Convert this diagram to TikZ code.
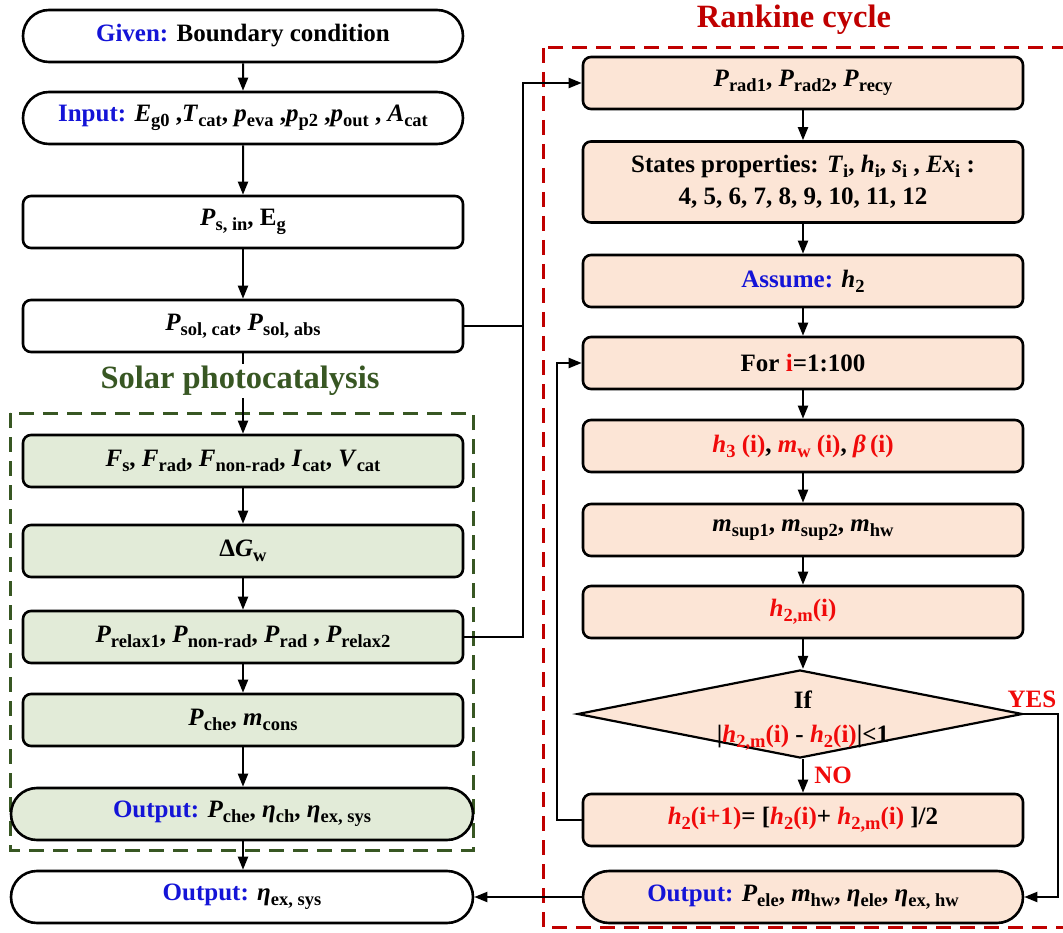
\documentclass[tikz,border=0pt]{standalone}
\usepackage{fontspec}
\setmainfont{Liberation Serif}
\usetikzlibrary{shapes.misc,shapes.geometric,arrows.meta,calc}
\definecolor{cblue}{RGB}{20,20,215}
\definecolor{cred}{RGB}{240,10,10}
\definecolor{dred}{RGB}{192,0,0}
\definecolor{dgreen}{RGB}{56,87,35}
\definecolor{peach}{RGB}{252,229,214}
\definecolor{lgreen}{RGB}{226,235,216}
\newcommand{\lsub}[1]{\raisebox{-5pt}{\fontsize{18.5}{18.5}\selectfont #1}}
\newcommand{\vv}[2]{\textit{#1}\lsub{#2}}
\newcommand{\bl}[1]{\textcolor{cblue}{#1}}
\newcommand{\rd}[1]{\textcolor{cred}{#1}}
\begin{document}
\begin{tikzpicture}[x=1pt,y=-1pt,
 base/.style={draw, line width=2.6pt, align=center, inner sep=0pt, font=\bfseries\fontsize{25}{32}\selectfont, minimum height=52pt},
 rbox/.style={base, rectangle, rounded corners=8pt, minimum width=440pt},
 sbox/.style={base, rounded rectangle, minimum width=462pt},
 gfill/.style={fill=lgreen},
 pfill/.style={fill=peach},
 arr/.style={line width=2pt, -{Triangle[length=13pt,width=10pt]}},
 ln/.style={line width=2pt},
 ttl/.style={font=\bfseries\fontsize{32.5}{36}\selectfont},
 lbl/.style={font=\bfseries\fontsize{25}{30}\selectfont, text=cred, inner sep=0pt},
 dsh/.style={line width=3pt, dash pattern=on 15pt off 9pt}]
\clip (0,0) rectangle (1063,933);
\fill[white] (0,0) rectangle (1063,933);

% dashed frames
\draw[dsh, dgreen] (10,413) rectangle (473,850);
\draw[dsh, dred] (543,48) rectangle (1090,927);

% left column
\node[sbox, minimum width=440pt] (given) at (243,36) {\bl{Given:} Boundary condition};
\node[sbox, minimum width=440pt] (input) at (243,118) {\bl{Input:} \vv{E}{g0} ,\vv{T}{cat}, \vv{p}{eva} ,\vv{p}{p2} ,\vv{p}{out} , \vv{A}{cat}};
\node[rbox] (psin) at (243,222) {\vv{P}{s, in}, E\lsub{g}};
\node[rbox] (psol) at (243,326) {\vv{P}{sol, cat}, \vv{P}{sol, abs}};
\node[rbox, gfill] (fs) at (243,461) {\vv{F}{s}, \vv{F}{rad}, \vv{F}{non-rad}, \vv{I}{cat}, \vv{V}{cat}};
\node[rbox, gfill] (dg) at (243,551) {Δ\vv{G}{w}};
\node[rbox, gfill] (relax) at (243,637) {\vv{P}{relax1}, \vv{P}{non-rad}, \vv{P}{rad} , \vv{P}{relax2}};
\node[rbox, gfill] (pche) at (243,720) {\vv{P}{che}, \vv{m}{cons}};
\node[sbox, gfill] (outg) at (242,814) {\bl{Output:} \vv{P}{che}, \vv{η}{ch}, \vv{η}{ex, sys}};
\node[sbox] (outf) at (242,897) {\bl{Output:} \vv{η}{ex, sys}};

% right column
\node[rbox, pfill] (r1) at (803,83) {\vv{P}{rad1}, \vv{P}{rad2}, \vv{P}{recy}};
\node[rbox, pfill, minimum height=81pt] (r2) at (803,182) {States properties: \vv{T}{i}, \vv{h}{i}, \vv{s}{i} , \vv{Ex}{i} :\\4, 5, 6, 7, 8, 9, 10, 11, 12};
\node[rbox, pfill] (r3) at (803,281) {\bl{Assume:} \vv{h}{2}};
\node[rbox, pfill] (r4) at (803,363) {For \rd{i}=1:100};
\node[rbox, pfill] (r5) at (803,446) {\rd{\vv{h}{3} (i)}, \rd{\vv{m}{w} (i)}, \rd{\textit{β}\,(i)}};
\node[rbox, pfill] (r6) at (803,530) {\vv{m}{sup1}, \vv{m}{sup2}, \vv{m}{hw}};
\node[rbox, pfill] (r7) at (803,612) {\rd{\vv{h}{2,m}(i)}};
\node[diamond, draw, line width=2.2pt, pfill, minimum width=445pt, minimum height=88pt, inner sep=0pt] (dia) at (800,714) {};
\node[font=\bfseries\fontsize{25}{34}\selectfont, align=center, inner sep=0pt] (diat) at (803,721) {If\\|\rd{\vv{h}{2,m}(i)} - \rd{\vv{h}{2}(i)}|<1};
\node[rbox, pfill] (r8) at (803,820) {\rd{\vv{h}{2}(i+1)}= [\rd{\vv{h}{2}(i)}+ \rd{\vv{h}{2,m}(i)} ]/2};
\node[sbox, pfill, minimum width=440pt] (r9) at (803,897) {\bl{Output:} \vv{P}{ele}, \vv{m}{hw}, \vv{η}{ele}, \vv{η}{ex, hw}};

% helper coordinates
\coordinate (jx) at (523,0);
\coordinate (lx) at (557,0);
\coordinate (rx) at (1058,0);

% left arrows
\draw[arr] (given) -- (input);
\draw[arr] (input) -- (psin);
\draw[arr] (psin) -- (psol);
\draw[arr] (psol) -- (fs);
\draw[arr] (fs) -- (dg);
\draw[arr] (dg) -- (relax);
\draw[arr] (relax) -- (pche);
\draw[arr] (pche.south) -- (pche.south |- outg.north);
\draw[arr] (pche.south |- outg.south) -- (pche.south |- outf.north);

% cross links
\draw[ln] (psol.east) -- (psol.east -| jx);
\draw[arr] (relax.east) -- (relax.east -| jx) -- (r1.west -| jx) -- (r1.west);

% right arrows
\draw[arr] (r1) -- (r2);
\draw[arr] (r2) -- (r3);
\draw[arr] (r3) -- (r4);
\draw[arr] (r4) -- (r5);
\draw[arr] (r5) -- (r6);
\draw[arr] (r6) -- (r7);
\draw[arr] (r7.south) -- (r7.south |- dia.north);
\draw[arr] (r8.north |- dia.south) -- (r8.north);
\draw[arr] (r8.west) -- (r8.west -| lx) -- (r4.west -| lx) -- (r4.west);
\draw[arr] (dia.east) -- (dia.east -| rx) -- (r9.east -| rx) -- (r9.east);
\draw[arr] (r9.west) -- (outf.east);

% labels
\node[lbl] (yes) at (1032,699) {YES};
\node[lbl] (no) at (833,775) {NO};

% titles
\node[ttl, text=dred] (rtitle) at (794,20) {Rankine cycle};
\node[ttl, text=dgreen, fill=white, inner sep=2pt] (stitle) at (240,381) {Solar photocatalysis};
\end{tikzpicture}
\end{document}
